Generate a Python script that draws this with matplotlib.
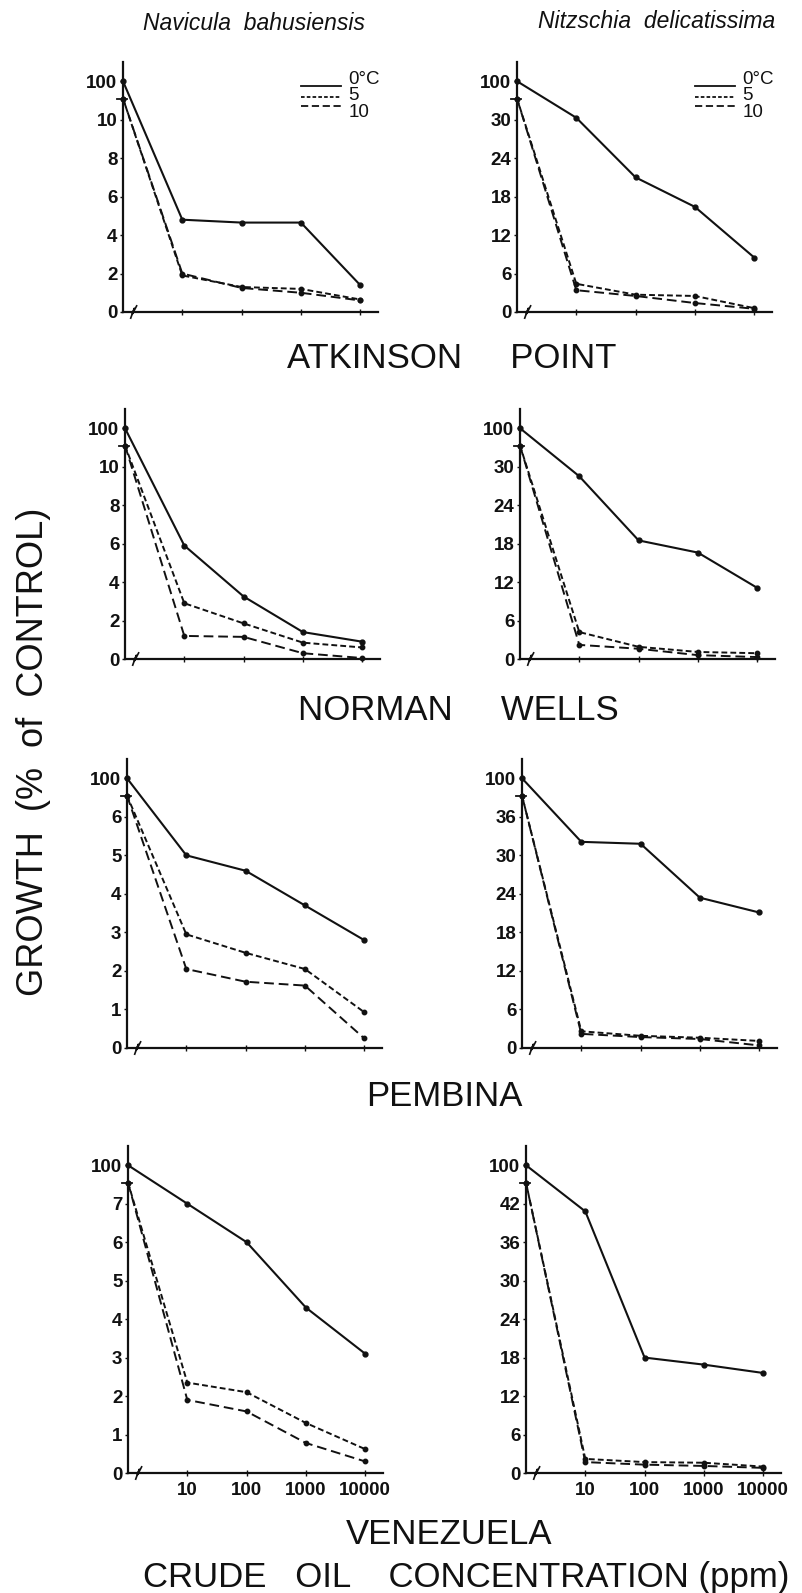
import numpy as np
import matplotlib
matplotlib.use("Agg")
import matplotlib.pyplot as plt

plt.rcParams['font.family'] = ['Liberation Sans', 'DejaVu Sans']

#! data (growth as % of control; control = 100)
conc = [1, 10, 100, 1000, 10000]          # 1 = control position
conc_labels = ['10', '100', '1000', '10000']
temps = ['0°C', '5', '10']

atk_nav_0 = [100, 4.8, 4.65, 4.65, 1.4]
atk_nav_5 = [100, 1.9, 1.3, 1.2, 0.65]
atk_nav_10 = [100, 2.0, 1.25, 1.0, 0.6]

atk_nit_0 = [100, 30.3, 21.0, 16.4, 8.5]
atk_nit_5 = [100, 4.4, 2.7, 2.5, 0.6]
atk_nit_10 = [100, 3.4, 2.5, 1.4, 0.5]

nw_nav_0 = [100, 5.9, 3.25, 1.4, 0.9]
nw_nav_5 = [100, 2.9, 1.85, 0.85, 0.6]
nw_nav_10 = [100, 1.2, 1.15, 0.3, 0.05]

nw_nit_0 = [100, 28.5, 18.5, 16.6, 11.1]
nw_nit_5 = [100, 4.2, 1.9, 1.1, 0.9]
nw_nit_10 = [100, 2.2, 1.6, 0.6, 0.3]

pem_nav_0 = [100, 5.0, 4.6, 3.7, 2.8]
pem_nav_5 = [100, 2.95, 2.47, 2.05, 0.93]
pem_nav_10 = [100, 2.05, 1.72, 1.62, 0.25]

pem_nit_0 = [100, 32.1, 31.8, 23.4, 21.1]
pem_nit_5 = [100, 2.6, 1.9, 1.6, 1.1]
pem_nit_10 = [100, 2.2, 1.7, 1.4, 0.4]

ven_nav_0 = [100, 7.0, 6.0, 4.3, 3.1]
ven_nav_5 = [100, 2.35, 2.1, 1.3, 0.62]
ven_nav_10 = [100, 1.9, 1.6, 0.78, 0.3]

ven_nit_0 = [100, 40.8, 18.0, 16.9, 15.6]
ven_nit_5 = [100, 2.2, 1.7, 1.6, 1.0]
ven_nit_10 = [100, 1.7, 1.3, 1.1, 0.8]

# y tick range per panel (top tick, step)
nav_scales = [(10, 2), (10, 2), (6, 1), (7, 1)]
nit_scales = [(30, 6), (30, 6), (36, 6), (42, 6)]

sites = ['ATKINSON     POINT', 'NORMAN     WELLS', 'PEMBINA', 'VENEZUELA']
species = ['Navicula  bahusiensis', 'Nitzschia  delicatissima']

INK = '#111111'
W, H = 802, 1593
X_SPAN = 4.3
DEC_PX = 59.3


def broken(vals, top, step, first):
    '''values above the top tick go to the broken part of the axis'''
    out = []
    for v in vals:
        if v > top + 0.5 * step:
            out.append(first)
        else:
            out.append(v)
    return out


def panel(ax, s0, s5, s10, top, step, legend=False, xlabels=False):
    x = np.log10(conc)
    y100 = top + step
    ybrk = top + 0.55 * step
    ax.plot(x, broken(s0, top, step, y100), '-', color=INK, lw=1.5,
            marker='o', ms=3.5, clip_on=False)
    ax.plot(x, broken(s5, top, step, ybrk), color=INK, lw=1.4,
            dashes=(3, 1.6), marker='o', ms=3.2, clip_on=False)
    ax.plot(x, broken(s10, top, step, ybrk), color=INK, lw=1.4,
            dashes=(5, 2.5), marker='o', ms=3.2, clip_on=False)

    ax.set_xlim(0, X_SPAN)
    ax.set_ylim(0, top + 1.5 * step)
    for s in ['top', 'right']:
        ax.spines[s].set_visible(False)
    for s in ['left', 'bottom']:
        ax.spines[s].set_linewidth(1.6)
        ax.spines[s].set_color(INK)

    yt = list(np.arange(0, top + step / 2, step)) + [y100]
    ax.set_yticks(yt)
    ax.set_yticklabels([str(int(v)) for v in yt[:-1]] + ['100'],
                       fontsize=13.5, fontweight='bold', color=INK)
    ax.tick_params(axis='y', length=2.5, width=1, pad=1.5, colors=INK)

    ax.set_xticks(x[1:])
    ax.tick_params(axis='x', direction='inout', length=5, width=1, colors=INK, pad=4)
    if xlabels:
        ax.set_xticklabels(conc_labels, fontsize=13.5, fontweight='bold', color=INK)
    else:
        ax.set_xticklabels([])

    # axis break marks
    ax.plot([-0.1, 0.06], [ybrk, ybrk], color=INK, lw=1.3, clip_on=False)
    zz = 0.16 * step
    ax.plot([0.13, 0.19, 0.16, 0.23], [-zz, zz * 0.6, -zz * 0.3, zz],
            color=INK, lw=1.2, clip_on=False)

    if legend:
        lx0, lx1, tx = 0.70, 0.855, 0.885
        ly = [0.905, 0.86, 0.825]
        ty = [0.93, 0.865, 0.80]
        styles = [dict(ls='-'), dict(dashes=(2, 1.2)), dict(dashes=(4, 2))]
        for i in range(3):
            ax.plot([lx0, lx1], [ly[i], ly[i]], color=INK, lw=1.3,
                    transform=ax.transAxes, clip_on=False, **styles[i])
            ax.text(tx, ty[i], temps[i], transform=ax.transAxes, fontsize=13.5,
                    color=INK, va='center', ha='left')


fig = plt.figure(figsize=(W / 100, H / 100), dpi=100)

# layout in pixels: (y of x-axis, axes height, left x of col 1, left x of col 2)
rows = [(312, 250, 123, 517), (659, 250, 125, 520),
        (1048, 289, 127, 522), (1473, 327, 128, 526)]

nav = [(atk_nav_0, atk_nav_5, atk_nav_10), (nw_nav_0, nw_nav_5, nw_nav_10),
       (pem_nav_0, pem_nav_5, pem_nav_10), (ven_nav_0, ven_nav_5, ven_nav_10)]
nit = [(atk_nit_0, atk_nit_5, atk_nit_10), (nw_nit_0, nw_nit_5, nw_nit_10),
       (pem_nit_0, pem_nit_5, pem_nit_10), (ven_nit_0, ven_nit_5, ven_nit_10)]

for r, (yb, hh, xl, xr) in enumerate(rows):
    wpx = X_SPAN * DEC_PX
    for c, xpx in enumerate([xl, xr]):
        ax = fig.add_axes([xpx / W, 1 - yb / H, wpx / W, hh / H])
        data = nav[r] if c == 0 else nit[r]
        top, step = nav_scales[r] if c == 0 else nit_scales[r]
        panel(ax, *data, top, step, legend=(r == 0), xlabels=(r == 3))

#! text
fig.text(254 / W, 1 - 23 / H, species[0], fontsize=16.5, style='italic',
         ha='center', va='center', color=INK)
fig.text(657 / W, 1 - 22 / H, species[1], fontsize=16.5, style='italic',
         ha='center', va='center', color=INK)

title_pos = [(452, 358), (458, 711), (444, 1097), (449, 1534)]
for (tx, ty), name in zip(title_pos, sites):
    fig.text(tx / W, 1 - ty / H, name, fontsize=25, ha='center', va='center', color=INK)

fig.text(466 / W, 1 - 1578 / H, 'CRUDE   OIL    CONCENTRATION (ppm)', fontsize=25,
         ha='center', va='center', color=INK)
fig.text(34 / W, 1 - 752 / H, 'GROWTH  (%  of  CONTROL)', fontsize=26, rotation=90,
         ha='center', va='center', color=INK)

fig.savefig('out.png', dpi=100, facecolor='white')
